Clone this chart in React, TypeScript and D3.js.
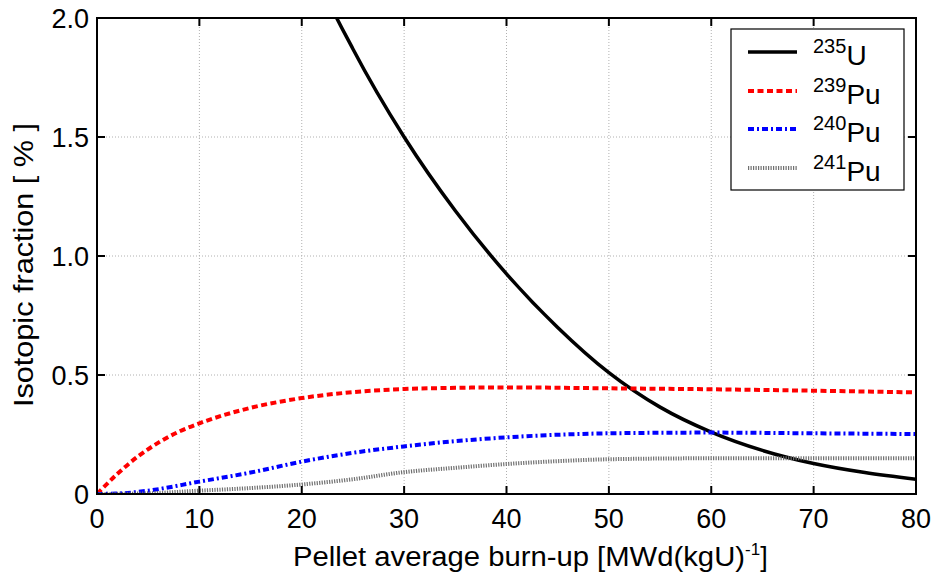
import React from "react";
import * as d3 from "d3";

const xTicks = [0, 10, 20, 30, 40, 50, 60, 70, 80];
const yTicks = [0, 0.5, 1.0, 1.5, 2.0];
const yTickLabels = ["0", "0.5", "1.0", "1.5", "2.0"];

const u235 = [
  [20, 2.36], [22, 2.13], [25, 1.87], [30, 1.5], [35, 1.19], [40, 0.925], [45, 0.7],
  [50, 0.51], [55, 0.365], [60, 0.26], [65, 0.183], [70, 0.128], [75, 0.09], [80, 0.062],
];
const pu239 = [
  [0, 0], [2, 0.085], [4, 0.158], [6, 0.216], [8, 0.262], [10, 0.297], [15, 0.362],
  [20, 0.403], [25, 0.428], [30, 0.441], [35, 0.446], [40, 0.448], [50, 0.444],
  [60, 0.44], [70, 0.434], [80, 0.427],
];
const pu240 = [
  [0, 0], [2.5, 0.003], [5, 0.014], [10, 0.052], [15, 0.09], [20, 0.136], [25, 0.173],
  [30, 0.2], [35, 0.222], [40, 0.238], [45, 0.249], [50, 0.255], [60, 0.258],
  [70, 0.255], [80, 0.252],
];
const pu241 = [
  [0, 0], [5, 0.003], [10, 0.014], [15, 0.025], [20, 0.04], [25, 0.062], [30, 0.092],
  [35, 0.11], [40, 0.126], [45, 0.138], [50, 0.146], [60, 0.15], [70, 0.15], [80, 0.15],
];

const seriesNames = [
  { sup: "235", base: "U" },
  { sup: "239", base: "Pu" },
  { sup: "240", base: "Pu" },
  { sup: "241", base: "Pu" },
];

const L = 97, R = 916, T = 18, B = 494;
const font = "'Liberation Sans', Arial, sans-serif";

export default function App() {
  const x = d3.scaleLinear().domain([0, 80]).range([L, R]);
  const y = d3.scaleLinear().domain([0, 2]).range([B, T]);
  const line = d3
    .line<number[]>()
    .x((d) => x(d[0]))
    .y((d) => y(d[1]))
    .curve(d3.curveMonotoneX);

  const styles = [
    { stroke: "#000", width: 3.5, dash: "none" },
    { stroke: "#ff0000", width: 4, dash: "6 3.5" },
    { stroke: "#0000ff", width: 4, dash: "6 3 2 3" },
    { stroke: "#707070", width: 4, dash: "1.2 1.3" },
  ];
  const data = [u235, pu239, pu240, pu241];
  const legendY = [52, 91, 129, 168];

  return (
    <svg
      width={935}
      height={576}
      style={{ position: "absolute", left: 0, top: 0, background: "#fff" }}
      fontFamily={font}
    >
      <defs>
        <clipPath id="plotclip">
          <rect x={L} y={T} width={R - L} height={B - T} />
        </clipPath>
      </defs>
      <rect x={0} y={0} width={935} height={576} fill="#fff" />
      {/* grid */}
      {xTicks.slice(1, -1).map((t) => (
        <line key={"gx" + t} x1={x(t)} x2={x(t)} y1={T} y2={B} stroke="#b0b0b0" strokeWidth={1} strokeDasharray="1 2" />
      ))}
      {yTicks.slice(1, -1).map((t) => (
        <line key={"gy" + t} x1={L} x2={R} y1={y(t)} y2={y(t)} stroke="#b0b0b0" strokeWidth={1} strokeDasharray="1 2" />
      ))}
      {/* curves */}
      <g clipPath="url(#plotclip)">
        {data.map((d, i) => (
          <path
            key={"s" + i}
            d={line(d) || ""}
            fill="none"
            stroke={styles[i].stroke}
            strokeWidth={styles[i].width}
            strokeDasharray={styles[i].dash}
          />
        ))}
      </g>
      {/* frame */}
      <rect x={L} y={T} width={R - L} height={B - T} fill="none" stroke="#000" strokeWidth={2} />
      {/* ticks */}
      {xTicks.map((t) => (
        <g key={"tx" + t}>
          <line x1={x(t)} x2={x(t)} y1={B} y2={B - 8} stroke="#000" strokeWidth={2} />
          <line x1={x(t)} x2={x(t)} y1={T} y2={T + 8} stroke="#000" strokeWidth={2} />
          <text x={x(t)} y={528} fontSize={27} textAnchor="middle" fill="#000">
            {t}
          </text>
        </g>
      ))}
      {yTicks.map((t, i) => (
        <g key={"ty" + t}>
          <line x1={L} x2={L + 8} y1={y(t)} y2={y(t)} stroke="#000" strokeWidth={2} />
          <line x1={R} x2={R - 8} y1={y(t)} y2={y(t)} stroke="#000" strokeWidth={2} />
          <text x={89} y={y(t) + 10} fontSize={27} textAnchor="end" fill="#000">
            {yTickLabels[i]}
          </text>
        </g>
      ))}
      {/* axis labels */}
      <text x={293} y={566} fontSize={27} fill="#000">
        <tspan textLength={452} lengthAdjust="spacingAndGlyphs">Pellet average burn-up [MWd(kgU)</tspan>
        <tspan dy={-11} fontSize={17}>-1</tspan>
        <tspan dy={11}>]</tspan>
      </text>
      <text
        transform={`translate(33, 265) rotate(-90)`}
        fontSize={28}
        textAnchor="middle"
        fill="#000"
        textLength={284}
        lengthAdjust="spacingAndGlyphs"
      >
        Isotopic fraction [ % ]
      </text>
      {/* legend */}
      <rect x={731} y={29} width={173} height={161} fill="#fff" stroke="#000" strokeWidth={1.2} />
      {seriesNames.map((s, i) => (
        <g key={"lg" + i}>
          <line
            x1={748}
            x2={797}
            y1={legendY[i]}
            y2={legendY[i]}
            stroke={styles[i].stroke}
            strokeWidth={styles[i].width}
            strokeDasharray={styles[i].dash}
          />
          <text x={813} y={legendY[i] + 13} fontSize={28} fill="#000">
            <tspan fontSize={20} dy={-12}>{s.sup}</tspan>
            <tspan dy={12}>{s.base}</tspan>
          </text>
        </g>
      ))}
    </svg>
  );
}
